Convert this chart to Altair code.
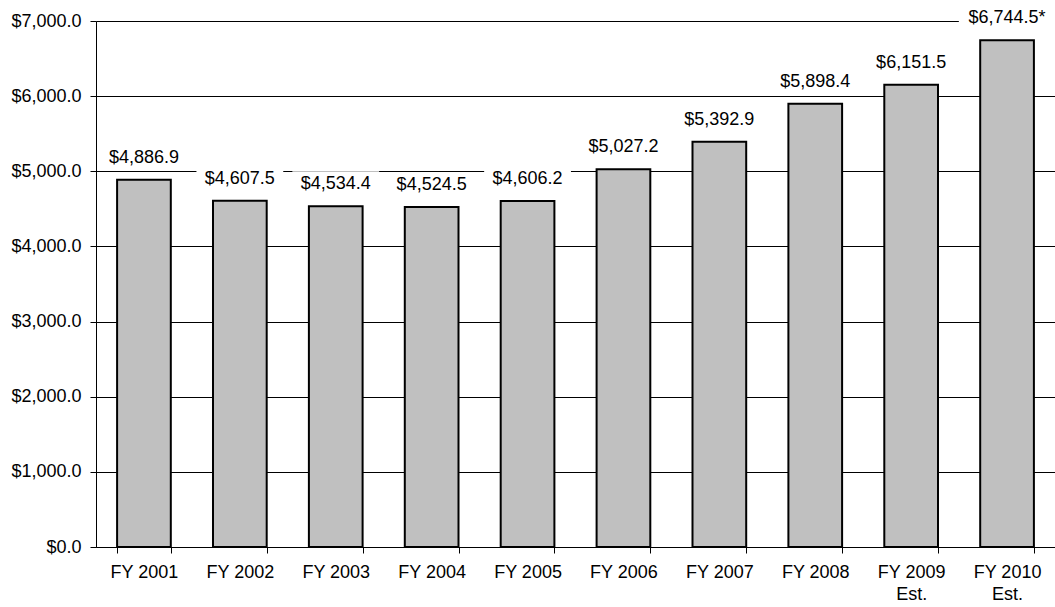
import altair as alt
import pandas as pd

categories = ["FY 2001", "FY 2002", "FY 2003", "FY 2004", "FY 2005",
              "FY 2006", "FY 2007", "FY 2008", "FY 2009|Est.", "FY 2010|Est."]
values = [4886.9, 4607.5, 4534.4, 4524.5, 4606.2, 5027.2, 5392.9, 5898.4, 6151.5, 6744.5]
value_labels = ["$4,886.9", "$4,607.5", "$4,534.4", "$4,524.5", "$4,606.2",
                "$5,027.2", "$5,392.9", "$5,898.4", "$6,151.5", "$6,744.5*"]
y_ticks = [0, 1000, 2000, 3000, 4000, 5000, 6000, 7000]

df = pd.DataFrame({"cat": categories, "v": values, "label": value_labels})

FONT = "Liberation Sans"
FS = 18

x_enc = alt.X("cat:N", sort=categories,
              scale=alt.Scale(paddingInner=0.44, paddingOuter=0.22),
              axis=alt.Axis(title=None, labelAngle=0, labelFontSize=FS, labelFont=FONT,
                            labelColor="black", labelExpr="split(datum.label, '|')",
                            labelLineHeight=22, labelPadding=10, tickBand="extent",
                            tickColor="black", tickSize=6, domainColor="black",
                            labelBaseline="top"))
y_scale = alt.Scale(domain=[0, 7000], nice=False)

base = alt.Chart(df)

boxes = base.mark_bar(color="white", yOffset=-12, y2Offset=-35).transform_calculate(
    w="length(datum.label) * 9.6 + 10"
).encode(
    x=x_enc,
    y=alt.Y("v:Q", scale=y_scale),
    y2="v:Q",
    size=alt.Size("w:Q", scale=None, legend=None),
)

texts = base.mark_text(dy=-17, baseline="alphabetic", fontSize=FS, font=FONT,
                       color="black").encode(
    x=x_enc,
    y=alt.Y("v:Q", scale=y_scale),
    text="label:N",
)

bars = base.mark_bar(color="#C0C0C0", stroke="black", strokeWidth=2).encode(
    x=x_enc,
    y=alt.Y("v:Q", scale=y_scale,
            axis=alt.Axis(title=None, values=y_ticks, format="$,.1f", labelFontSize=FS,
                          labelFont=FONT, labelColor="black", grid=True, gridColor="black",
                          gridWidth=1, gridOpacity=1, domainColor="black", tickColor="black",
                          tickSize=6, labelPadding=9)),
)

chart = alt.layer(bars, boxes, texts).properties(
    width=959, height=526,
    autosize=alt.AutoSizeParams(type="none"),
    padding={"left": 96, "top": 21, "right": 0, "bottom": 60},
).configure_view(stroke=None).configure(background="white")

chart.save("out.html", embed_options={"renderer": "svg", "actions": False})
